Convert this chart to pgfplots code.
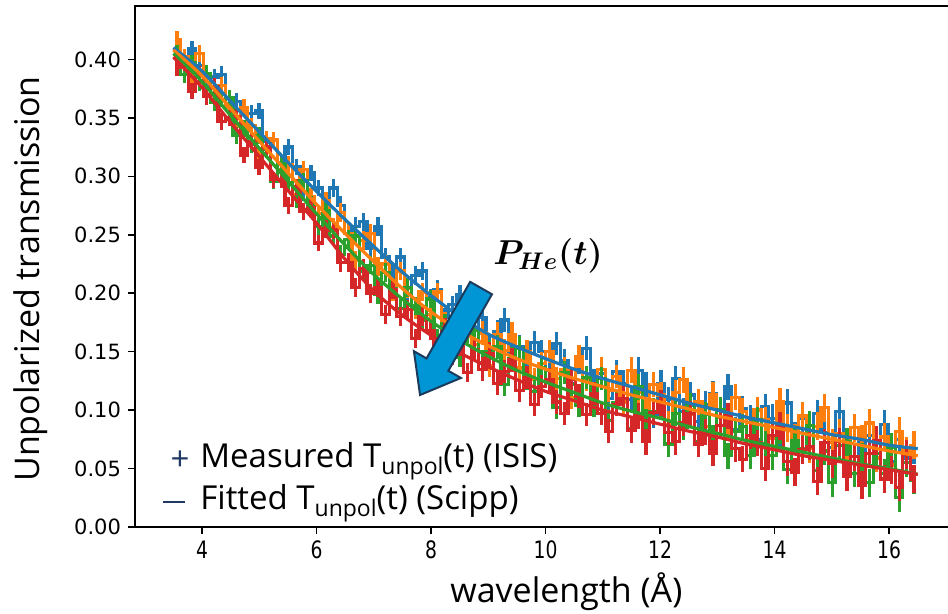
\documentclass[border=0pt]{standalone}
\usepackage{amsmath}
\usepackage{pgfplots}
\pgfplotsset{compat=1.18}
\usepackage{pgfplotstable}
\usepackage{fontspec}
\setmainfont{Open Sans}
\newfontfamily\dejavu{DejaVu Sans}
\newfontfamily\dejavucond[FakeStretch=0.78]{DejaVu Sans}
\definecolor{mblue}{HTML}{1F77B4}
\definecolor{morange}{HTML}{FF7F0E}
\definecolor{mgreen}{HTML}{2CA02C}
\definecolor{mred}{HTML}{D62728}
\definecolor{arrowfill}{HTML}{0096D6}
\definecolor{arrowedge}{HTML}{1B3A5C}
\definecolor{navy}{HTML}{203864}

\pgfplotstableread{
x b o g r e
3.565 .415 .417 .405 .393 .007
3.695 .397 .402 .387 .397 .007
3.825 .409 .386 .397 .373 .007
3.955 .395 .405 .380 .387 .007
4.085 .377 .387 .388 .368 .007
4.215 .385 .369 .363 .377 .007
4.345 .387 .378 .366 .347 .007
4.475 .362 .359 .367 .350 .007
4.605 .364 .343 .335 .351 .007
4.735 .341 .359 .341 .318 .007
4.865 .354 .343 .327 .330 .007
4.995 .356 .318 .335 .308 .007
5.125 .330 .332 .323 .325 .007
5.255 .331 .331 .296 .297 .007
5.385 .310 .306 .311 .297 .007
5.515 .325 .310 .295 .275 .007
5.645 .308 .284 .280 .291 .007
5.775 .286 .306 .296 .270 .007
5.905 .303 .283 .276 .273 .007
6.035 .290 .268 .257 .243 .007
6.165 .273 .279 .271 .255 .008
6.295 .290 .256 .249 .254 .008
6.425 .275 .269 .233 .226 .008
6.555 .251 .251 .246 .226 .008
6.685 .257 .228 .249 .205 .008
6.815 .261 .245 .219 .221 .008
6.945 .238 .251 .224 .200 .008
7.075 .257 .223 .199 .205 .008
7.205 .231 .225 .218 .182 .008
7.335 .217 .201 .204 .203 .008
7.465 .231 .219 .187 .180 .008
7.595 .200 .204 .205 .186 .008
7.725 .215 .186 .189 .161 .008
7.855 .219 .201 .177 .180 .008
7.985 .196 .182 .195 .168 .008
8.115 .203 .201 .161 .152 .008
8.245 .179 .176 .174 .171 .008
8.375 .190 .160 .164 .147 .008
8.505 .199 .176 .145 .154 .008
8.635 .171 .181 .165 .132 .008
8.765 .171 .156 .168 .152 .010
8.895 .179 .166 .141 .135 .010
9.025 .153 .138 .150 .148 .010
9.155 .167 .165 .154 .123 .010
9.285 .177 .151 .122 .133 .010
9.415 .149 .165 .144 .143 .010
9.545 .154 .136 .153 .117 .010
9.675 .134 .150 .127 .128 .010
9.805 .158 .126 .116 .105 .010
9.935 .150 .140 .136 .120 .010
10.065 .134 .150 .125 .126 .010
10.195 .157 .127 .102 .107 .010
10.325 .142 .135 .132 .097 .010
10.455 .123 .111 .122 .126 .010
10.585 .141 .146 .104 .112 .010
10.715 .153 .126 .128 .096 .010
10.845 .125 .113 .104 .114 .010
10.975 .131 .135 .127 .097 .010
11.105 .110 .117 .091 .082 .010
11.235 .133 .129 .106 .105 .010
11.365 .123 .107 .110 .110 .011
11.495 .109 .134 .084 .083 .011
11.625 .134 .115 .120 .095 .011
11.755 .122 .098 .090 .073 .011
11.885 .096 .122 .099 .098 .011
12.015 .123 .113 .105 .106 .011
12.145 .109 .088 .071 .081 .011
12.275 .127 .115 .097 .073 .011
12.405 .099 .126 .085 .089 .011
12.535 .113 .096 .104 .097 .011
12.665 .090 .107 .073 .071 .011
12.795 .105 .086 .096 .081 .011
12.925 .114 .113 .076 .063 .011
13.055 .094 .094 .100 .087 .011
13.185 .120 .087 .061 .095 .011
13.315 .083 .111 .082 .067 .011
13.445 .101 .099 .086 .058 .011
13.575 .093 .075 .061 .078 .011
13.705 .075 .100 .092 .072 .011
13.835 .103 .092 .071 .050 .011
13.965 .093 .076 .061 .078 .012
14.095 .078 .107 .083 .086 .012
14.225 .106 .085 .049 .056 .012
14.355 .078 .076 .074 .047 .012
14.485 .093 .095 .067 .066 .012
14.615 .067 .067 .087 .069 .012
14.745 .097 .086 .048 .039 .012
14.875 .081 .102 .065 .072 .012
15.005 .068 .072 .038 .054 .012
15.135 .099 .080 .070 .073 .012
15.265 .071 .057 .073 .043 .012
15.395 .085 .085 .046 .060 .012
15.525 .055 .075 .060 .036 .012
15.655 .078 .089 .038 .063 .012
15.785 .074 .059 .063 .074 .012
15.915 .088 .077 .046 .041 .012
16.045 .056 .053 .068 .049 .012
16.175 .075 .082 .025 .034 .012
16.305 .059 .065 .055 .062 .012
16.435 .066 .070 .040 .041 .012
}\data

\pgfplotstableread{
x b o g r
3.5 .410 .408 .405 .402
4.0 .390 .386 .381 .376
4.5 .364 .358 .352 .346
5.0 .338 .330 .324 .317
5.5 .312 .303 .296 .288
6.0 .287 .276 .268 .260
6.5 .263 .251 .241 .229
7.0 .240 .227 .216 .202
7.5 .218 .204 .195 .181
8.0 .198 .184 .176 .164
8.5 .180 .168 .160 .149
9.0 .165 .155 .146 .137
9.5 .154 .144 .134 .126
10.0 .144 .135 .124 .116
10.5 .135 .127 .115 .108
11.0 .127 .120 .106 .100
11.5 .120 .113 .099 .094
12.0 .113 .107 .093 .088
12.5 .106 .101 .086 .082
13.0 .100 .095 .080 .077
13.5 .094 .090 .074 .071
14.0 .089 .085 .069 .066
14.5 .084 .080 .064 .061
15.0 .079 .075 .059 .057
15.5 .075 .070 .054 .053
16.0 .070 .065 .050 .049
16.5 .067 .061 .045 .045
}\fit

\begin{document}
\begin{tikzpicture}
\begin{axis}[
  name=ax, at={(0,0)}, anchor=south west,
  scale only axis, width=410pt, height=260.5pt,
  xmin=2.83, xmax=17.15, ymin=0, ymax=0.4457,
  xtick={4,6,8,10,12,14,16},
  ytick={0,0.05,0.1,0.15,0.2,0.25,0.3,0.35,0.4},
  tick align=outside, xtick pos=bottom, ytick pos=left,
  major tick length=3.5pt,
  every tick/.style={black, line width=0.8pt},
  axis line style={line width=0.9pt, black},
  clip mode=individual,
  /pgf/number format/assume math mode=true,
  yticklabel style={font=\dejavu\fontsize{10.5}{12}\selectfont,
    /pgf/number format/.cd, fixed, fixed zerofill, precision=2},
  xticklabel style={font=\dejavucond\fontsize{12}{14}\selectfont},
  xlabel={wavelength (Å)}, ylabel={Unpolarized transmission},
  xlabel style={at={(axis description cs:0.526,-0.125)}, anchor=center, font=\fontsize{17}{20}\selectfont},
  ylabel style={at={(axis description cs:-0.127,0.476)}, anchor=center, font=\fontsize{17}{20}\selectfont},
]
\addplot[const plot mark mid, color=mblue, line width=1.6pt, mark=none,
  error bars/.cd, y dir=both, y explicit, error mark=none, error bar style={line width=1.6pt}]
  table[x=x, y=b, y error=e] {\data};
\addplot[const plot mark mid, color=morange, line width=1.6pt, mark=none,
  error bars/.cd, y dir=both, y explicit, error mark=none, error bar style={line width=1.6pt}]
  table[x=x, y=o, y error=e] {\data};
\addplot[const plot mark mid, color=mgreen, line width=1.6pt, mark=none,
  error bars/.cd, y dir=both, y explicit, error mark=none, error bar style={line width=1.6pt}]
  table[x=x, y=g, y error=e] {\data};
\addplot[const plot mark mid, color=mred, line width=1.6pt, mark=none,
  error bars/.cd, y dir=both, y explicit, error mark=none, error bar style={line width=1.6pt}]
  table[x=x, y=r, y error=e] {\data};
\addplot[smooth, color=mblue, line width=1.6pt, mark=none] table[x=x, y=b] {\fit};
\addplot[smooth, color=morange, line width=1.6pt, mark=none] table[x=x, y=o] {\fit};
\addplot[smooth, color=mgreen, line width=1.6pt, mark=none] table[x=x, y=g] {\fit};
\addplot[smooth, color=mred, line width=1.6pt, mark=none] table[x=x, y=r] {\fit};

\draw[fill=arrowfill, draw=arrowedge, line width=1pt, line join=miter]
  (9.064,0.1991) -- (8.302,0.1336) -- (8.522,0.1275) -- (7.808,0.1129)
  -- (7.701,0.1504) -- (7.921,0.1442) -- (8.683,0.2097) -- cycle;
\node[font=\fontsize{18}{22}\selectfont] at (10.044,0.2318) {$\boldsymbol{P_{He}(t)}$};

\node[anchor=base west, font=\fontsize{16.5}{20}\selectfont, inner sep=0pt] at (3.965,0.0513)
  {Measured T\raisebox{-3.5pt}{\fontsize{11.5}{12}\selectfont unpol}(t) (ISIS)};
\node[anchor=base west, font=\fontsize{16.5}{20}\selectfont, inner sep=0pt] at (3.965,0.01454)
  {Fitted T\raisebox{-3.5pt}{\fontsize{11.5}{12}\selectfont unpol}(t) (Scipp)};
\node[text=navy, font=\fontsize{16.5}{20}\selectfont] at (3.616,0.0565) {+};
\node[inner sep=0pt] at (3.511,0.0214) {\textcolor{navy}{\rule{11pt}{1.1pt}}};
\end{axis}
\pgfresetboundingbox
\useasboundingbox (ax.south west) ++(-67.5pt,-43.5pt) rectangle ++(474pt,307pt);
\end{tikzpicture}
\end{document}
